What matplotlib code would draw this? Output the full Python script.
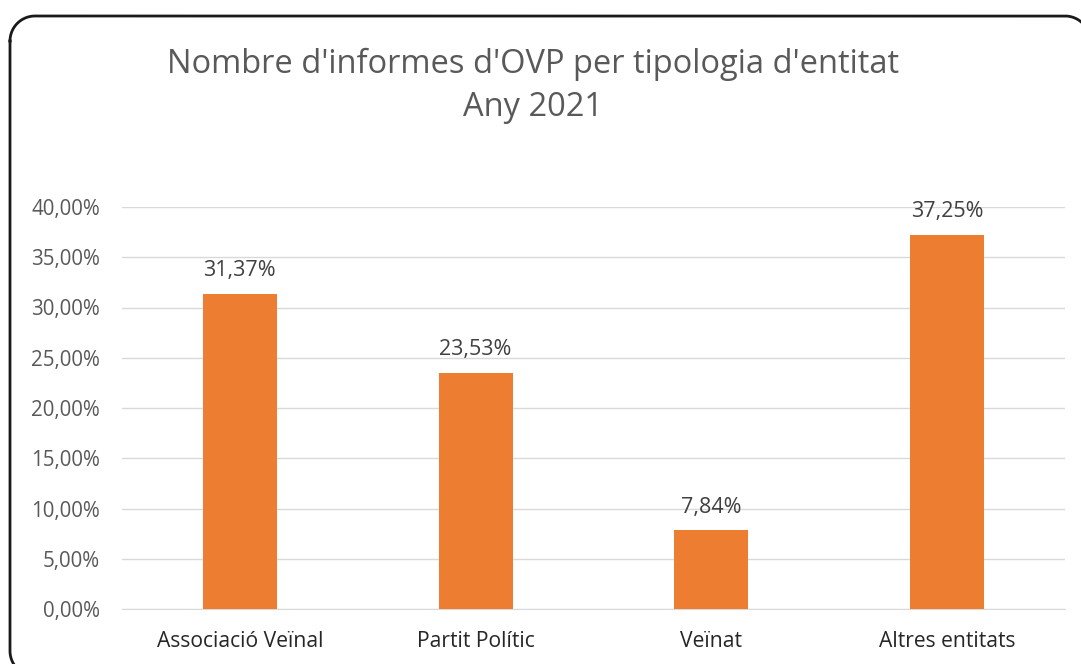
import matplotlib
matplotlib.use("Agg")
import numpy as np
import matplotlib.pyplot as plt
from matplotlib.ticker import FuncFormatter, MultipleLocator

categories = ["Associació Veïnal", "Partit Polític", "Veïnat", "Altres entitats"]
values = [31.37, 23.53, 7.84, 37.25]
title_lines = ["Nombre d'informes d'OVP per tipologia d'entitat", "Any 2021"]

plt.rcParams['font.family'] = ['Open Sans', 'DejaVu Sans']

W, H = 1081, 664
fig = plt.figure(figsize=(W / 100, H / 100), dpi=100)
fig.patch.set_facecolor("white")

# pixel-space overlay for the rounded chart border (y grows downward)
bg = fig.add_axes([0, 0, 1, 1], zorder=-1)
bg.set_xlim(0, W)
bg.set_ylim(H, 0)
bg.axis("off")
L, T, R, B, r = 10, 16, 1090, 676, 25
pts = []
def arc(cx, cy, a0, a1):
    t = np.linspace(np.radians(a0), np.radians(a1), 40)
    return list(zip(cx + r * np.cos(t), cy + r * np.sin(t)))
pts += arc(L + r, T + r, 180, 270)
pts += arc(R - r, T + r, 270, 360)
pts += arc(R - r, B - r, 0, 90)
pts += arc(L + r, B - r, 90, 180)
pts.append(pts[0])
px, py = zip(*pts)
bg.plot(px, py, color="#1a1a1a", linewidth=2.0, clip_on=False,
        solid_joinstyle="round")

ax = fig.add_axes([122 / W, 1 - 609 / H, (1065 - 122) / W, (609 - 207) / H])
x = list(range(len(categories)))
bars = ax.bar(x, values, width=0.314, color="#ED7D31", zorder=3)
ax.set_xlim(-0.5, len(categories) - 0.5)
ax.set_ylim(0, 40)
ax.yaxis.set_major_locator(MultipleLocator(5))
ax.yaxis.set_major_formatter(FuncFormatter(lambda v, p: f"{v:.2f}".replace(".", ",") + "%"))
ax.grid(axis="y", color="#d9d9d9", linewidth=1, zorder=0)
for s in ["top", "right", "left"]:
    ax.spines[s].set_visible(False)
ax.spines["bottom"].set_color("#d9d9d9")
ax.tick_params(axis="y", length=0, labelsize=14.8, labelcolor="#595959", pad=16)
ax.tick_params(axis="x", length=0, labelsize=15.2, labelcolor="#262626", pad=16)
ax.set_xticks(x)
ax.set_xticklabels(categories)

for xi, v in zip(x, values):
    ax.annotate(f"{v:.2f}".replace(".", ",") + "%", (xi, v), xytext=(0, 9),
                textcoords="offset points", ha="center", va="bottom",
                fontsize=15.5, color="#404040")

fig.text(533 / W, 1 - 64 / H, title_lines[0], ha="center", va="center",
         fontsize=23.5, color="#595959")
fig.text(533 / W, 1 - 108 / H, title_lines[1], ha="center", va="center",
         fontsize=23.5, color="#595959")

fig.savefig("out.png", dpi=100)
